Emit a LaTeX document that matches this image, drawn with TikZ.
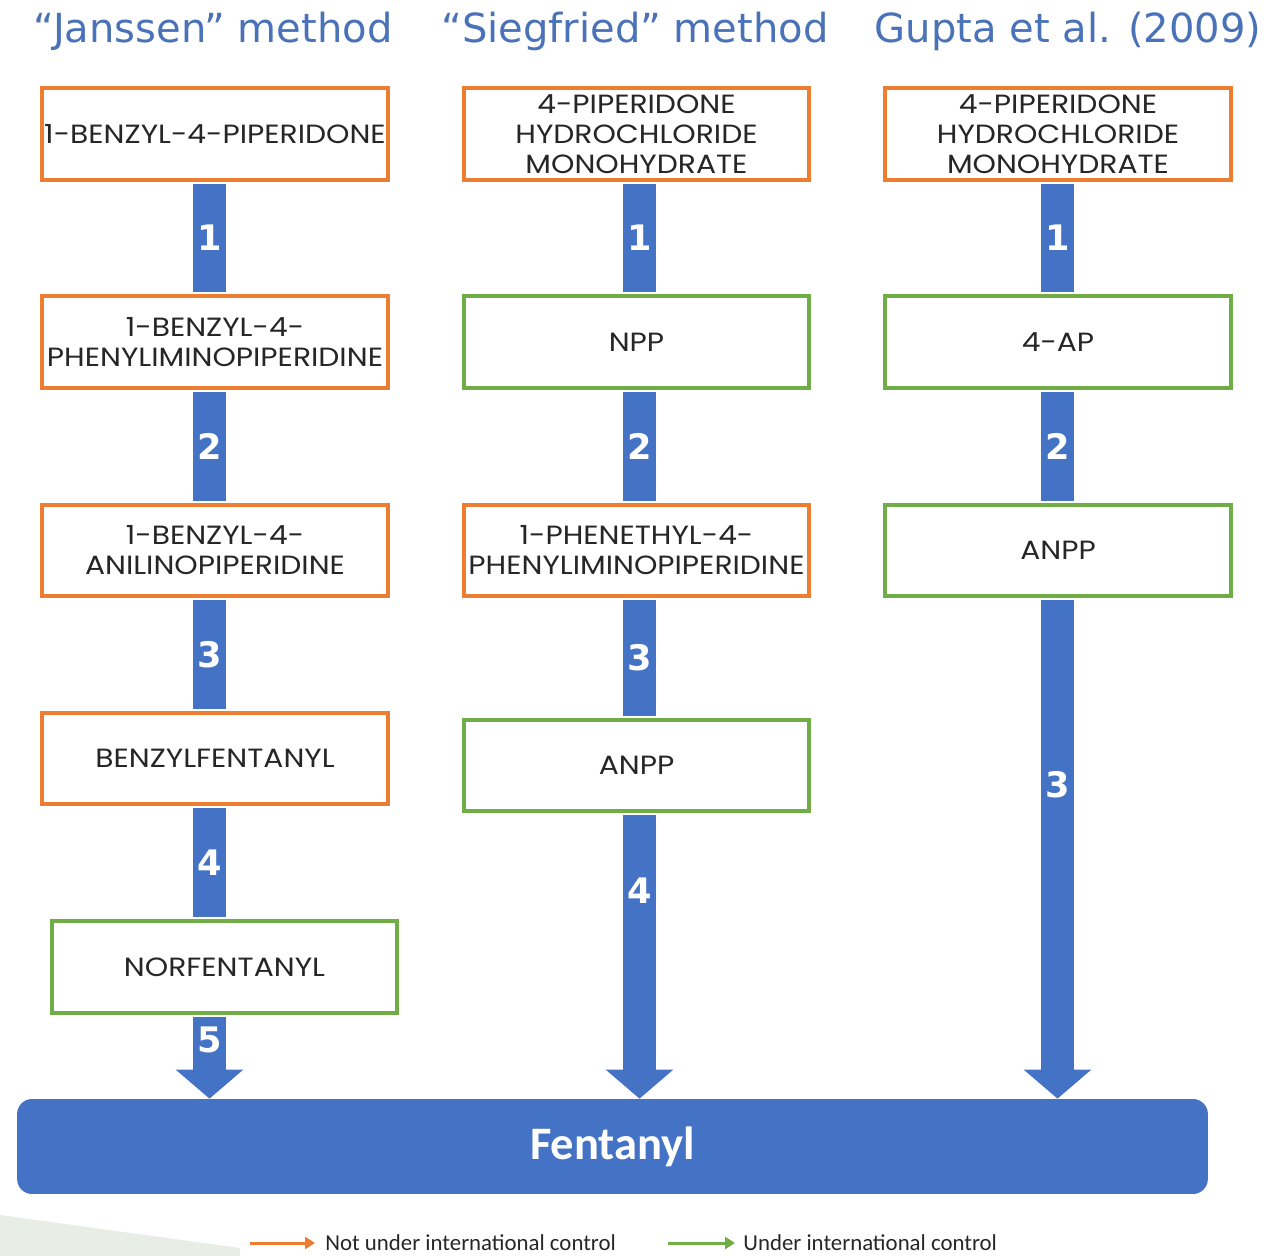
\documentclass[tikz,border=0pt]{standalone}
\usepackage{fontspec}
\setmainfont{Poppins}
\newfontfamily\boxfont[FakeStretch=1.13]{Poppins}
\newfontfamily\headfont{DejaVu Sans}
\newfontfamily\calfont{Carlito}
\usepackage{xcolor}
\usetikzlibrary{arrows.meta}
\definecolor{ctrlorange}{HTML}{ED7D31}
\definecolor{ctrlgreen}{HTML}{70AD47}
\definecolor{stepblue}{HTML}{4472C4}
\definecolor{headblue}{HTML}{4A72B8}
\definecolor{wedgegray}{HTML}{E8EDE6}

\begin{document}
\begin{tikzpicture}[x=0.02cm, y=-0.02cm]
        % ================= 样式定义 =================
        \tikzset{
            % 物质框:白底,边框颜色表示管制状态
            chem/.style={rectangle, draw, line width=0.08cm, fill=white, minimum width=6.92cm, minimum height=1.84cm, inner sep=0pt, align=center, text=black!85, font=\boxfont\fontsize{15}{17}\selectfont},
            free/.style={chem, draw=ctrlorange},
            ctrl/.style={chem, draw=ctrlgreen},
            % 方法标题:蓝色
            head/.style={text=headblue, inner sep=0pt, font=\headfont\fontsize{22.8}{26}\selectfont},
            % 步骤条:蓝色粗线
            bar/.style={stepblue, line width=0.66cm, shorten <=0.04cm, shorten >=0.04cm},
            lastbar/.style={stepblue, line width=0.66cm, shorten <=0.04cm, -{Triangle[width=1.32cm, length=0.58cm]}},
            stepnum/.style={text=white, inner sep=0pt, font=\headfont\bfseries\fontsize{20}{22}\selectfont},
            % 图例
            legarrow/.style={line width=0.06cm, -{Triangle[width=0.24cm, length=0.2cm]}},
            legtext/.style={anchor=west, inner sep=0pt, text=black!85, font=\calfont\fontsize{13}{15}\selectfont}
        }

        \useasboundingbox (0,0) rectangle (1279,1256);

        % 左下角浅色背景块
        \fill[wedgegray] (0,1215) -- (240,1248) -- (240,1256) -- (0,1256) -- cycle;

        % ================= 1. 标题 =================
        \node[head] (hj) at (213,31) {“Janssen” method};
        \node[head] (hs) at (635,31) {“Siegfried” method};
        \node[head] (hg) at (1068,31) {Gupta et al. (2009)};

        % ================= 2. 物质框 =================
        % --- Janssen ---
        \node[free] (j1) at (215,134) {1-BENZYL-4-PIPERIDONE};
        \node[free] (j2) at (215,342) {1-BENZYL-4-\\PHENYLIMINOPIPERIDINE};
        \node[free] (j3) at (215,550.5) {1-BENZYL-4-\\ANILINOPIPERIDINE};
        \node[free] (j4) at (215,758.5) {BENZYLFENTANYL};
        \node[ctrl] (j5) at (224.5,967) {NORFENTANYL};

        % --- Siegfried ---
        \node[free] (s1) at (636.5,134) {4-PIPERIDONE\\HYDROCHLORIDE\\MONOHYDRATE};
        \node[ctrl] (s2) at (636.5,342) {NPP};
        \node[free] (s3) at (636.5,550.5) {1-PHENETHYL-4-\\PHENYLIMINOPIPERIDINE};
        \node[ctrl] (s4) at (636.5,765.5) {ANPP};

        % --- Gupta ---
        \node[free] (g1) at (1058,134) {4-PIPERIDONE\\HYDROCHLORIDE\\MONOHYDRATE};
        \node[ctrl] (g2) at (1058,342) {4-AP};
        \node[ctrl] (g3) at (1058,550.5) {ANPP};

        % --- 产物 ---
        \node[rectangle, rounded corners=0.3cm, fill=stepblue, minimum width=23.82cm, minimum height=1.9cm, text=white, font=\calfont\bfseries\fontsize{26.5}{30}\selectfont] (fent) at (612.5,1146.5) {Fentanyl};

        % ================= 3. 步骤条 =================
        \coordinate (jx) at (209.5,0);
        \coordinate (sx) at (639.5,0);
        \coordinate (gx) at (1057.5,0);

        \draw[bar] (j1.south -| jx) -- node[stepnum] {1} (j2.north -| jx);
        \draw[bar] (j2.south -| jx) -- node[stepnum] {2} (j3.north -| jx);
        \draw[bar] (j3.south -| jx) -- node[stepnum] {3} (j4.north -| jx);
        \draw[bar] (j4.south -| jx) -- node[stepnum] {4} (j5.north -| jx);
        \draw[lastbar] (j5.south -| jx) -- node[stepnum, pos=0.3] {5} (fent.north -| jx);

        \draw[bar] (s1.south -| sx) -- node[stepnum] {1} (s2.north -| sx);
        \draw[bar] (s2.south -| sx) -- node[stepnum] {2} (s3.north -| sx);
        \draw[bar] (s3.south -| sx) -- node[stepnum] {3} (s4.north -| sx);
        \draw[lastbar] (s4.south -| sx) -- node[stepnum, pos=0.27] {4} (fent.north -| sx);

        \draw[bar] (g1.south -| gx) -- node[stepnum] {1} (g2.north -| gx);
        \draw[bar] (g2.south -| gx) -- node[stepnum] {2} (g3.north -| gx);
        \draw[lastbar] (g3.south -| gx) -- node[stepnum, pos=0.373] {3} (fent.north -| gx);

        % ================= 4. 图例 =================
        \node[legtext] (legfree) at (325,1243) {Not under international control};
        \node[legtext] (legctrl) at (743,1243) {Under international control};
        \coordinate (legfreestart) at (250,1243);
        \coordinate (legctrlstart) at (668,1243);
        \draw[legarrow, ctrlorange] (legfreestart) -- ([xshift=-0.2cm]legfree.west);
        \draw[legarrow, ctrlgreen] (legctrlstart) -- ([xshift=-0.16cm]legctrl.west);

\end{tikzpicture}
\end{document}
